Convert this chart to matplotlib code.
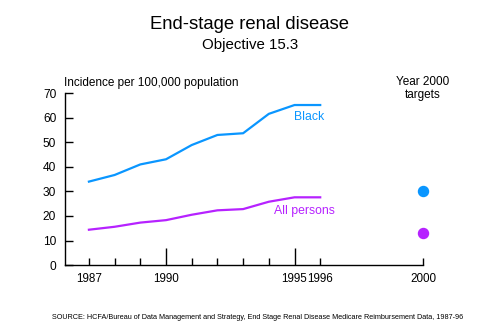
import matplotlib
matplotlib.use("Agg")
import matplotlib.pyplot as plt

plt.rcParams['font.family'] = ['Liberation Sans', 'DejaVu Sans']

years = [1987, 1988, 1989, 1990, 1991, 1992, 1993, 1994, 1995, 1996]
black = [34.0, 36.7, 41.0, 43.1, 48.9, 53.0, 53.7, 61.6, 65.2, 65.2]
all_persons = [14.4, 15.6, 17.3, 18.3, 20.5, 22.3, 22.8, 25.8, 27.6, 27.6]
target_year = 2000
target_black = 30
target_all = 13

blue = '#0A96FF'
purple = '#B622FF'

fig = plt.figure(figsize=(5.0, 3.33), dpi=100)
ax = fig.add_axes([0.129, 0.204, 0.717, 0.516])

ax.plot(years, black, color=blue, lw=1.6, solid_joinstyle='round')
ax.plot(years, all_persons, color=purple, lw=1.6, solid_joinstyle='round')
ax.scatter([target_year], [target_black], s=52, color=blue, zorder=3, clip_on=False)
ax.scatter([target_year], [target_all], s=52, color=purple, zorder=3, clip_on=False)

ax.text(1995.55, 60.5, 'Black', color=blue, fontsize=8.8, ha='center', va='center')
ax.text(1995.4, 22.0, 'All persons', color=purple, fontsize=8.8, ha='center', va='center')

ax.set_xlim(1986.05, 2000)
ax.set_ylim(0, 70)
ax.set_yticks(range(0, 71, 10))
ax.set_xticks([1987, 1990, 1995, 1996, 2000])
ax.set_xticklabels(['1987', '1990', '1995', '1996', '2000'])
ax.set_xticks([1988, 1989, 1991, 1992, 1993, 1994], minor=True)

for s in ('top', 'right'):
    ax.spines[s].set_visible(False)
for s in ('left', 'bottom'):
    ax.spines[s].set_linewidth(1.0)

ax.tick_params(axis='y', direction='in', length=6, width=1.0, labelsize=8.6, pad=6)
ax.tick_params(axis='x', which='major', direction='in', length=12, width=1.0, labelsize=8.4, pad=6)
ax.tick_params(axis='x', which='minor', direction='in', length=5, width=1.0)
for t, yr in zip(ax.xaxis.get_major_ticks(), [1987, 1990, 1995, 1996, 2000]):
    if yr not in (1990, 1995):
        t.tick1line.set_markersize(5)

fig.text(0.5, 0.925, 'End-stage renal disease', ha='center', va='center', fontsize=13.3)
fig.text(0.5, 0.866, 'Objective 15.3', ha='center', va='center', fontsize=10.8)
fig.text(0.127, 0.752, 'Incidence per 100,000 population', ha='left', va='center', fontsize=8.5)
fig.text(0.846, 0.734, 'Year 2000\ntargets', ha='center', va='center', fontsize=8.5, linespacing=1.1)
fig.text(0.516, 0.046, 'SOURCE: HCFA/Bureau of Data Management and Strategy, End Stage Renal Disease Medicare Reimbursement Data, 1987-96',
         ha='center', va='center', fontsize=5.25)

fig.savefig('out.png', dpi=100)
